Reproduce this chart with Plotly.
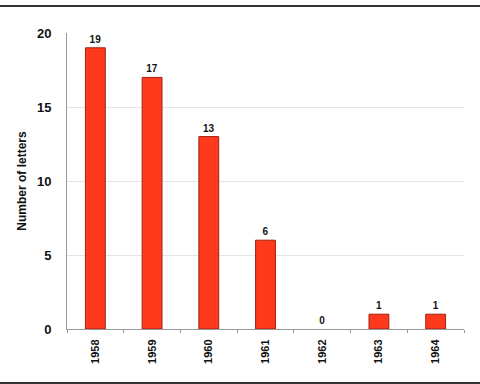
import plotly.graph_objects as go

years = ["1958", "1959", "1960", "1961", "1962", "1963", "1964"]
letters = [19, 17, 13, 6, 0, 1, 1]
y_ticks = [0, 5, 10, 15, 20]

W, H = 480, 384
L, R, T, B = 67, 16, 33, 55
pw, ph = W - L - R, H - T - B

fig = go.Figure(go.Bar(
    x=years, y=letters,
    marker=dict(color="#FF3A1C",
                line=dict(color="#A02010", width=[1 if v > 0 else 0 for v in letters])),
    text=[str(v) for v in letters], textposition="outside",
    textfont=dict(family="Liberation Sans", size=10, color="#111111", weight="bold"),
    cliponaxis=False,
))

fig.update_layout(
    width=W, height=H,
    margin=dict(l=L, r=R, t=T, b=B),
    paper_bgcolor="white", plot_bgcolor="white",
    bargap=0.65,
    showlegend=False,
    font=dict(family="Liberation Sans", color="#111111"),
    xaxis=dict(
        type="category", tickangle=-90,
        tickfont=dict(size=11, weight="bold"),
        showline=True, linecolor="#999999", linewidth=1,
        ticks="outside", tickson="boundaries", ticklen=3, tickcolor="#999999",
        ticklabelstandoff=5,
        showgrid=False,
    ),
    yaxis=dict(
        range=[0, 20], tickvals=y_ticks,
        tickfont=dict(size=13, weight="bold"),
        showline=True, linecolor="#999999", linewidth=1,
        showgrid=True, gridcolor="#E4E4E4", zeroline=False,
        ticks="", ticklen=0,
        ticklabelstandoff=12,
        title=dict(text="Number of letters", font=dict(size=12, weight="bold"), standoff=7),
    ),
    shapes=[
        dict(type="line", xref="paper", yref="paper",
             x0=-L / pw, x1=(W - L) / pw, y0=1 + (T - 6) / ph, y1=1 + (T - 6) / ph,
             line=dict(color="#333333", width=2)),
        dict(type="line", xref="paper", yref="paper",
             x0=-L / pw, x1=(W - L) / pw, y0=-(383 - (H - B)) / ph, y1=-(383 - (H - B)) / ph,
             line=dict(color="#333333", width=2)),
    ],
)

fig.write_html("out.html")
